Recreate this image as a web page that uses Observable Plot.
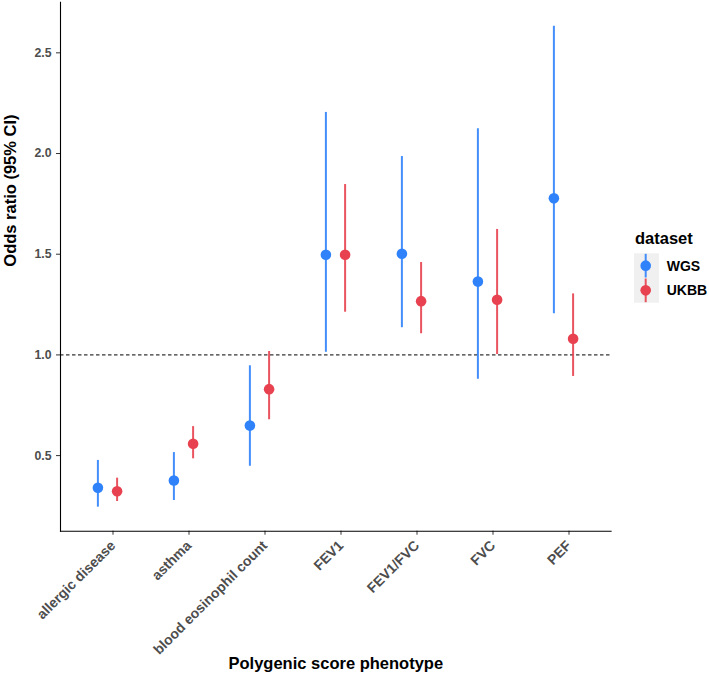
<!DOCTYPE html>
<html>
<head>
<meta charset="utf-8">
<script src="https://cdn.jsdelivr.net/npm/d3@7"></script>
<script src="https://cdn.jsdelivr.net/npm/@observablehq/plot@0.6"></script>
<style>
  html, body { margin: 0; padding: 0; background: white; }
  #wrap { position: relative; width: 709px; height: 681px; font-family: "Liberation Sans", Arial, Helvetica, sans-serif; }
  #legend { position: absolute; left: 0; top: 0; pointer-events: none; }
  #wrap svg g[aria-label="x-axis tick label"] text { font-size: 14px; font-weight: bold; }
  #wrap svg g[aria-label="y-axis tick label"] text { font-size: 12.3px; font-weight: bold; }
</style>
</head>
<body>
<div id="wrap"></div>
<script>
// ---- data ----
const phenotypes = ["allergic disease", "asthma", "blood eosinophil count", "FEV1", "FEV1/FVC", "FVC", "PEF"];
const datasets = ["WGS", "UKBB"];
const wgsOR = [0.340, 0.376, 0.649, 1.497, 1.502, 1.364, 1.778];
const wgsLo = [0.244, 0.277, 0.447, 1.013, 1.135, 0.879, 1.204];
const wgsHi = [0.476, 0.515, 0.946, 2.204, 1.985, 2.123, 2.632];
const ukbbOR = [0.323, 0.559, 0.830, 1.497, 1.267, 1.274, 1.080];
const ukbbLo = [0.272, 0.484, 0.678, 1.212, 1.105, 1.002, 0.893];
const ukbbHi = [0.388, 0.644, 1.017, 1.846, 1.459, 1.623, 1.303];
const yTicks = [0.5, 1.0, 1.5, 2.0, 2.5];
const refLine = [1];
const xTitle = "Polygenic score phenotype";
const yTitle = "Odds ratio (95% CI)";
const legendTitle = "dataset";

const colors = {WGS: "#2F82FA", UKBB: "#E8414F"};
const font = "'Liberation Sans', Arial, Helvetica, sans-serif";

const rowsW = phenotypes.map((p, i) => ({phenotype: p, dataset: "WGS", or: wgsOR[i], lo: wgsLo[i], hi: wgsHi[i]}));
const rowsU = phenotypes.map((p, i) => ({phenotype: p, dataset: "UKBB", or: ukbbOR[i], lo: ukbbLo[i], hi: ukbbHi[i]}));
const all = rowsW.concat(rowsU);
const ext = [d3.min(all, d => d.lo), d3.max(all, d => d.hi)];
const pad = (ext[1] - ext[0]) * 0.05;
const yDomain = [ext[0] - pad, ext[1] + pad];

const dodge = 9.6;

const chart = Plot.plot({
  width: 709,
  height: 681,
  marginLeft: 60,
  marginRight: 98.4,
  marginTop: 1.7,
  marginBottom: 150.3,
  style: {fontFamily: font, fontSize: "13px", background: "white", overflow: "visible"},
  x: {type: "point", domain: phenotypes, padding: 0.6, label: null},
  y: {domain: yDomain, label: null},
  marks: [
    Plot.ruleY(refLine, {stroke: "black", strokeWidth: 1, strokeDasharray: "3.5,2.5"}),
    Plot.ruleX(rowsW, {x: "phenotype", y1: "lo", y2: "hi", stroke: colors.WGS, strokeWidth: 2, strokeOpacity: 0.9, dx: -dodge}),
    Plot.ruleX(rowsU, {x: "phenotype", y1: "lo", y2: "hi", stroke: colors.UKBB, strokeWidth: 2, strokeOpacity: 0.9, dx: dodge}),
    Plot.dot(rowsW, {x: "phenotype", y: "or", fill: colors.WGS, r: 5.3, dx: -dodge}),
    Plot.dot(rowsU, {x: "phenotype", y: "or", fill: colors.UKBB, r: 5.3, dx: dodge}),
    Plot.axisY({ticks: yTicks, tickFormat: d3.format(".1f"), tickSize: 4, tickPadding: 5,
      fontSize: 12.3, fontWeight: "bold", fill: "#4d4d4d", stroke: "#333", label: null}),
    Plot.axisX({tickSize: 4, tickPadding: 8, tickRotate: -45, dx: 5.5,
      fontSize: 14, fontWeight: "bold", fill: "#4d4d4d", stroke: "#333", label: null}),
    Plot.frame({anchor: "left", stroke: "black", strokeWidth: 1.1}),
    Plot.frame({anchor: "bottom", stroke: "black", strokeWidth: 1.1}),
    Plot.text([yTitle], {text: d => d, frameAnchor: "left", dx: -49.5, rotate: -90,
      fontSize: 16.5, fontWeight: "bold", fill: "black"}),
    Plot.text([xTitle], {text: d => d, frameAnchor: "bottom", dy: 138,
      fontSize: 16.5, fontWeight: "bold", fill: "black"})
  ]
});

const wrap = document.getElementById("wrap");
wrap.appendChild(chart);

// ---- legend (right side) ----
const lg = d3.select(wrap).append("svg")
  .attr("id", "legend")
  .attr("width", 709).attr("height", 681)
  .style("font-family", font);
lg.append("text").attr("x", 635).attr("y", 243.9)
  .attr("font-size", 16.5).attr("font-weight", "bold").attr("fill", "black").text(legendTitle);
const keyX = 634, keyY = 253.3, keyW = 25, keyH = 24.7;
datasets.forEach((ds, i) => {
  const y0 = keyY + i * keyH;
  lg.append("rect").attr("x", keyX).attr("y", y0).attr("width", keyW).attr("height", keyH).attr("fill", "#f0f0f0");
  const cx = keyX + 11.7, cy = y0 + keyH / 2;
  lg.append("line").attr("x1", cx).attr("x2", cx).attr("y1", y0 + 0.5).attr("y2", y0 + keyH - 0.5)
    .attr("stroke", colors[ds]).attr("stroke-width", 2).attr("stroke-opacity", 0.9);
  lg.append("circle").attr("cx", cx).attr("cy", cy).attr("r", 5.3).attr("fill", colors[ds]);
  lg.append("text").attr("x", 666.7).attr("y", cy + 5)
    .attr("font-size", 14).attr("font-weight", "bold").attr("fill", "black").text(ds);
});
</script>
</body>
</html>
